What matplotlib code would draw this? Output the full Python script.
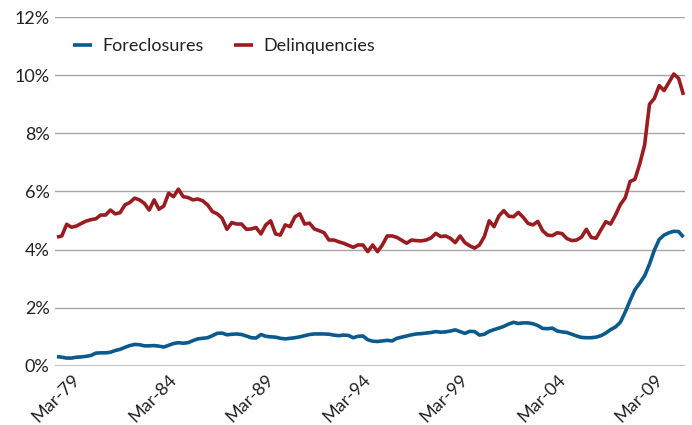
import numpy as np
import pandas as pd
import matplotlib.pyplot as plt
import matplotlib.transforms as mtransforms

# quarterly, Jun-78 .. Sep-10
quarters = pd.period_range('1978Q2', periods=130, freq='Q')

foreclosures = [
    0.32, 0.30, 0.27, 0.27, 0.30, 0.31, 0.33, 0.36, 0.44, 0.45,
    0.45, 0.47, 0.53, 0.57, 0.64, 0.70, 0.74, 0.73, 0.69, 0.69,
    0.70, 0.68, 0.65, 0.71, 0.77, 0.80, 0.78, 0.80, 0.87, 0.93,
    0.95, 0.97, 1.04, 1.12, 1.13, 1.07, 1.09, 1.10, 1.08, 1.03,
    0.97, 0.96, 1.08, 1.02, 1.00, 0.99, 0.95, 0.93, 0.95, 0.97,
    1.00, 1.04, 1.08, 1.10, 1.10, 1.10, 1.09, 1.06, 1.04, 1.06,
    1.05, 0.97, 1.02, 1.03, 0.90, 0.85, 0.84, 0.86, 0.88, 0.86,
    0.95, 0.99, 1.03, 1.07, 1.10, 1.11, 1.13, 1.15, 1.18, 1.16,
    1.17, 1.20, 1.24, 1.18, 1.12, 1.19, 1.18, 1.06, 1.09, 1.19,
    1.25, 1.30, 1.36, 1.44, 1.50, 1.46, 1.48, 1.48, 1.45, 1.39,
    1.29, 1.28, 1.30, 1.20, 1.17, 1.15, 1.09, 1.03, 0.98, 0.97,
    0.97, 0.99, 1.04, 1.13, 1.25, 1.34, 1.50, 1.85, 2.25, 2.62,
    2.85, 3.10, 3.50, 3.98, 4.35, 4.50, 4.58, 4.63, 4.62, 4.43,
]

delinquencies = [
    4.43, 4.47, 4.87, 4.77, 4.81, 4.90, 4.98, 5.03, 5.06, 5.19,
    5.19, 5.36, 5.23, 5.27, 5.54, 5.62, 5.77, 5.71, 5.59, 5.36,
    5.71, 5.39, 5.50, 5.94, 5.82, 6.08, 5.82, 5.79, 5.71, 5.74,
    5.68, 5.54, 5.31, 5.23, 5.08, 4.70, 4.93, 4.88, 4.88, 4.70,
    4.71, 4.76, 4.54, 4.85, 4.99, 4.54, 4.50, 4.85, 4.79, 5.13,
    5.23, 4.88, 4.91, 4.71, 4.65, 4.58, 4.33, 4.33, 4.27, 4.22,
    4.15, 4.08, 4.16, 4.16, 3.93, 4.16, 3.93, 4.16, 4.47, 4.47,
    4.42, 4.32, 4.22, 4.33, 4.31, 4.30, 4.33, 4.40, 4.56, 4.45,
    4.47, 4.39, 4.24, 4.47, 4.24, 4.13, 4.05, 4.16, 4.45, 4.99,
    4.79, 5.16, 5.34, 5.15, 5.13, 5.28, 5.11, 4.90, 4.85, 4.97,
    4.65, 4.50, 4.48, 4.58, 4.55, 4.38, 4.31, 4.33, 4.43, 4.70,
    4.42, 4.39, 4.68, 4.96, 4.88, 5.19, 5.55, 5.78, 6.34, 6.42,
    6.95, 7.60, 9.00, 9.20, 9.64, 9.47, 9.75, 10.04, 9.89, 9.32,
]

plt.rcParams['font.family'] = ['Lato', 'DejaVu Sans']

blue = '#0b5a8e'
red = '#9b1c20'

fig = plt.figure(figsize=(6.92, 4.25), dpi=100)
ax = fig.add_axes([0.0795, 0.139, 0.911, 0.821])

x = np.arange(len(quarters))
ax.plot(x, foreclosures, color=blue, lw=2.6, label='Foreclosures', solid_capstyle='butt')
ax.plot(x, delinquencies, color=red, lw=2.6, label='Delinquencies', solid_capstyle='butt')

ax.set_xlim(-0.4, len(quarters) - 0.6)
ax.set_ylim(0, 12)
ax.set_yticks(range(0, 13, 2))
ax.set_yticklabels([f'{v}%' for v in range(0, 13, 2)], fontsize=13, color='#222222')

tick_pos = [i for i, q in enumerate(quarters) if q.quarter == 1 and (q.year - 1979) % 5 == 0]
tick_lab = [quarters[i].strftime('Mar-%y') for i in tick_pos]
ax.set_xticks(tick_pos)
ax.set_xticklabels(tick_lab, fontsize=13, rotation=45, ha='right', va='top',
                   rotation_mode='anchor', color='#222222')
offset = mtransforms.ScaledTranslation(9 / 100, -4 / 100, fig.dpi_scale_trans)
for lab in ax.get_xticklabels():
    lab.set_transform(lab.get_transform() + offset)

ax.tick_params(length=0, pad=4)
ax.grid(axis='y', color='#a6a6a6', lw=1.0)
ax.axhline(0, color='#c0c0c0', lw=2.2, zorder=1)
ax.set_axisbelow(True)
for s in ax.spines.values():
    s.set_visible(False)

ax.legend(loc='upper left', bbox_to_anchor=(0.003, 0.985), ncol=2, frameon=False,
          fontsize=13, handlelength=1.05, handletextpad=0.55, columnspacing=1.7,
          labelcolor='#222222')

fig.savefig('out.png', dpi=100)
